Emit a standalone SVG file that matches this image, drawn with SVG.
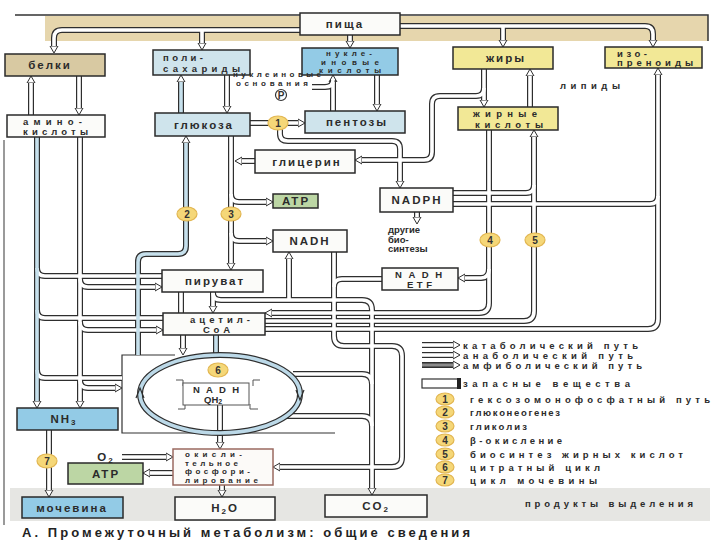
<svg xmlns="http://www.w3.org/2000/svg" xmlns:xlink="http://www.w3.org/1999/xlink" width="720" height="540" viewBox="0 0 720 540">
<style>
.box{stroke:#2a2a2a;stroke-width:1.5}
.w{fill:#fbfbf9}.lb{fill:#cfe4ec}.bl{fill:#93cbe6}.tan{fill:#d8c9a2}.yl{fill:#f2e896}.gr{fill:#bcd6a4}
.t{font-family:"Liberation Sans",Arial,sans-serif;font-size:11.5px;font-weight:bold;letter-spacing:2px;fill:#2b2b2b;text-anchor:middle}
.t2{font-family:"Liberation Sans",Arial,sans-serif;font-size:9.5px;font-weight:bold;fill:#2b2b2b}
.ts{font-family:"Liberation Sans",Arial,sans-serif;font-size:8px;font-weight:bold;fill:#2b2b2b}
.tl{font-family:"Liberation Sans",Arial,sans-serif;font-size:9.5px;font-weight:bold;fill:#2b2b2b}
.po{fill:none;stroke:#2e2e2e;stroke-width:6}
.pi{fill:none;stroke:#fff;stroke-width:3.6}
.pib{fill:none;stroke:#c6e0ec;stroke-width:3.6}
.num{fill:#f5d778;stroke:#e2b651;stroke-width:1.2}
.nt{font-family:"Liberation Sans",Arial,sans-serif;font-size:10px;font-weight:bold;fill:#333;text-anchor:middle}
</style>
<defs>
<marker id="ah" markerUnits="userSpaceOnUse" markerWidth="10" markerHeight="10" refX="0" refY="5" orient="auto" viewBox="0 0 10 10">
<path d="M0,1 L7,5 L0,9 Z" fill="#fff" stroke="#2e2e2e" stroke-width="1"/>
</marker>
<path id="c_food_l" d="M300,30 H62 Q54,30 54,38 V46"/>
<path id="c_food_poly" d="M202,30 V43"/>
<path id="c_food_nuc" d="M350,35 V41"/>
<path id="c_food_r" d="M400,26 H645 Q653,26 653,34 V40"/>
<path id="c_food_fat" d="M503,26 V40"/>
<path id="c_prot_down" d="M79,76 V108"/>
<path id="c_prot_up" d="M31,115 V83"/>
<path id="c_poly_down" d="M227,75 V106"/>
<path id="c_poly_up" d="M181,113 V82"/>
<path id="c_pent_up" d="M333,111 V82"/>
<path id="c_bases" d="M312,87 H325 Q333,87 333,80"/>
<path id="c_nuc_down" d="M377,75 V104"/>
<path id="c_glc_pent" d="M250,123 H298"/>
<path id="c_1_nadph" d="M280,128 V134 Q280,141 288,141 H392 Q400,141 400,149 V181"/>
<path id="c_gly_glc" d="M255,161 H242"/>
<path id="c_fat_gly" d="M484,88 Q484,96 476,96 H440 Q432,96 432,104 V152 Q432,160 424,160 H362"/>
<path id="c_fat_fa" d="M484,69 V100"/>
<path id="c_fa_fat" d="M530,107 V76"/>
<path id="c_nadph_fa" d="M453,193 H526 Q534,193 534,185"/>
<path id="c_nadph_iso" d="M453,204 H650 Q658,204 658,196"/>
<path id="c_nadph_bio" d="M417,212 V217"/>
<path id="c_beta" d="M489,130 V303 Q489,313 479,313 H272"/>
<path id="c_beta_etf" d="M489,269 Q489,278 481,278 H465"/>
<path id="c_fasyn" d="M265,321 H524 Q534,321 534,311 V137"/>
<path id="c_iso" d="M265,329 H648 Q658,329 658,319 V75"/>
<path id="c_glycolysis" d="M231,136 V263"/>
<path id="c_glyc_atp" d="M231,194 Q231,202 239,202 H266"/>
<path id="c_glyc_nadh" d="M231,233 Q231,241 239,241 H266"/>
<path id="c_gng" d="M138,355 V262 Q138,254 146,254 H178 Q186,254 186,246 V143"/>
<path id="c_pyr_acoa1" d="M181,292 V313"/>
<path id="c_pyr_acoa2" d="M213,292 V306"/>
<path id="c_pyr_co2" d="M213,293 Q213,300 221,300 H362 Q372,300 372,310 V488"/>
<path id="c_pyr_nadh" d="M289,300 V259"/>
<path id="c_nadh_ox" d="M334,252 V336 Q334,346 344,346 H392 Q402,346 402,356 V457 Q402,467 392,467 H280"/>
<path id="c_etf_ox" d="M382,279 H342 Q334,279 334,287"/>
<path id="c_cyc_co2a" d="M293,374 H362 Q372,374 372,384"/>
<path id="c_cyc_co2b" d="M285,416 H362 Q372,416 372,426"/>
<path id="c_acoa_cyc1" d="M183,335 V348"/>
<path id="c_acoa_cyc2" d="M216,335 V356"/>
<path id="c_aa_l" d="M37,137 V401"/>
<path id="c_aa_l1" d="M37,268 Q37,276 45,276 H162"/>
<path id="c_aa_l2" d="M37,310 Q37,318 45,318 H163"/>
<path id="c_aa_l3" d="M37,370 Q37,378 45,378 H122"/>
<path id="c_aa_r" d="M80,137 V401"/>
<path id="c_aa_r1" d="M80,279 Q80,287 88,287 H155"/>
<path id="c_aa_r2" d="M80,322 Q80,330 88,330 H156"/>
<path id="c_aa_r3" d="M80,380 Q80,388 88,388 H115"/>
<path id="c_nh3_urea" d="M49,430 V490"/>
<path id="c_o2_ox" d="M122,457 H166"/>
<path id="c_ox_atp" d="M173,473 H150"/>
<path id="c_ox_h2o" d="M222,485 V490"/>
<path id="c_qh2_ox" d="M220,405 V442"/>
<path id="l_cat" d="M422,345 H453"/>
<path id="l_ana" d="M422,355 H453"/>
<path id="l_amf" d="M422,365 H453"/>
</defs>

<rect width="720" height="540" fill="#ffffff"/>
<rect x="45" y="16" width="663" height="25" fill="#e6d6ad"/>
<path d="M15,15 H708 V41" fill="none" stroke="#333" stroke-width="1.5"/>
<rect x="10" y="488" width="700" height="33" fill="#e6e6e3"/>
<path d="M4,140 V525" stroke="#9a9a9a" stroke-width="2"/>

<g id="cycle-frame">
<path d="M175,355 H122 V433 H335" fill="none" stroke="#333" stroke-width="1.2"/>
</g>

<g id="connectors">
<g class="po">
<use href="#c_food_l" marker-end="url(#ah)"/>
<use href="#c_food_poly" marker-end="url(#ah)"/>
<use href="#c_food_nuc" marker-end="url(#ah)"/>
<use href="#c_food_r" marker-end="url(#ah)"/>
<use href="#c_food_fat" marker-end="url(#ah)"/>
<use href="#c_prot_down" marker-end="url(#ah)"/>
<use href="#c_prot_up" marker-end="url(#ah)"/>
<use href="#c_poly_down" marker-end="url(#ah)"/>
<use href="#c_poly_up" marker-end="url(#ah)"/>
<use href="#c_pent_up" marker-end="url(#ah)"/>
<use href="#c_bases"/>
<use href="#c_nuc_down" marker-end="url(#ah)"/>
<use href="#c_glc_pent" marker-end="url(#ah)"/>
<use href="#c_1_nadph" marker-end="url(#ah)"/>
<use href="#c_gly_glc" marker-end="url(#ah)"/>
<use href="#c_fat_gly" marker-end="url(#ah)"/>
<use href="#c_fat_fa" marker-end="url(#ah)"/>
<use href="#c_fa_fat" marker-end="url(#ah)"/>
<use href="#c_nadph_fa"/>
<use href="#c_nadph_iso"/>
<use href="#c_nadph_bio" marker-end="url(#ah)"/>
<use href="#c_beta" marker-end="url(#ah)"/>
<use href="#c_beta_etf" marker-end="url(#ah)"/>
<use href="#c_fasyn" marker-end="url(#ah)"/>
<use href="#c_iso" marker-end="url(#ah)"/>
<use href="#c_glycolysis" marker-end="url(#ah)"/>
<use href="#c_glyc_atp" marker-end="url(#ah)"/>
<use href="#c_glyc_nadh" marker-end="url(#ah)"/>
<use href="#c_gng" marker-end="url(#ah)"/>
<use href="#c_pyr_acoa1"/>
<use href="#c_pyr_acoa2" marker-end="url(#ah)"/>
<use href="#c_pyr_co2" marker-end="url(#ah)"/>
<use href="#c_pyr_nadh" marker-end="url(#ah)"/>
<use href="#c_nadh_ox" marker-end="url(#ah)"/>
<use href="#c_etf_ox"/>
<use href="#c_cyc_co2a"/>
<use href="#c_cyc_co2b"/>
<use href="#c_acoa_cyc1" marker-end="url(#ah)"/>
<use href="#c_acoa_cyc2"/>
<use href="#c_aa_l" marker-end="url(#ah)"/>
<use href="#c_aa_l1"/>
<use href="#c_aa_l2"/>
<use href="#c_aa_l3"/>
<use href="#c_aa_r" marker-end="url(#ah)"/>
<use href="#c_aa_r1" marker-end="url(#ah)"/>
<use href="#c_aa_r2" marker-end="url(#ah)"/>
<use href="#c_aa_r3" marker-end="url(#ah)"/>
<use href="#c_nh3_urea" marker-end="url(#ah)"/>
<use href="#c_o2_ox" marker-end="url(#ah)"/>
<use href="#c_ox_atp" marker-end="url(#ah)"/>
<use href="#c_ox_h2o" marker-end="url(#ah)"/>
<use href="#c_qh2_ox" marker-end="url(#ah)"/>
<use href="#l_cat" marker-end="url(#ah)"/>
<use href="#l_ana" marker-end="url(#ah)"/>
<use href="#l_amf" marker-end="url(#ah)"/>
</g>
<g class="pi">
<use href="#c_food_l"/><use href="#c_food_poly"/><use href="#c_food_nuc"/><use href="#c_food_r"/><use href="#c_food_fat"/>
<use href="#c_prot_down"/><use href="#c_prot_up"/><use href="#c_poly_down"/>
<use href="#c_pent_up"/><use href="#c_bases"/><use href="#c_nuc_down"/><use href="#c_glc_pent"/>
<use href="#c_1_nadph"/><use href="#c_gly_glc"/><use href="#c_fat_gly"/><use href="#c_fat_fa"/><use href="#c_fa_fat"/>
<use href="#c_nadph_fa"/><use href="#c_nadph_iso"/><use href="#c_nadph_bio"/>
<use href="#c_beta"/><use href="#c_beta_etf"/><use href="#c_fasyn"/><use href="#c_iso"/>
<use href="#c_glycolysis"/><use href="#c_glyc_atp"/><use href="#c_glyc_nadh"/>
<use href="#c_pyr_acoa1"/><use href="#c_pyr_acoa2"/><use href="#c_pyr_co2"/><use href="#c_pyr_nadh"/>
<use href="#c_nadh_ox"/><use href="#c_etf_ox"/><use href="#c_cyc_co2a"/><use href="#c_cyc_co2b"/>
<use href="#c_acoa_cyc1"/>
<use href="#c_aa_l1"/><use href="#c_aa_l2"/><use href="#c_aa_l3"/>
<use href="#c_aa_r"/><use href="#c_aa_r1"/><use href="#c_aa_r2"/><use href="#c_aa_r3"/>
<use href="#c_nh3_urea"/><use href="#c_o2_ox"/><use href="#c_ox_atp"/><use href="#c_ox_h2o"/><use href="#c_qh2_ox"/>
<use href="#l_cat"/><use href="#l_ana"/>
</g>
<g class="pib">
<use href="#c_poly_up"/><use href="#c_gng"/><use href="#c_acoa_cyc2"/><use href="#c_aa_l"/>
</g>
<use href="#l_amf" fill="none" stroke="#8a8a8a" stroke-width="3"/>
</g>

<g id="citrate-cycle">
<ellipse cx="220" cy="394" rx="80" ry="39" fill="none" stroke="#2e2e2e" stroke-width="6"/>
<ellipse cx="220" cy="394" rx="80" ry="39" fill="none" stroke="#bcd9e8" stroke-width="3.6"/>
<path d="M136,398 L140,388 L144,398" fill="none" stroke="#2e2e2e" stroke-width="1.2"/>
<path d="M296,390 L300,400 L304,390" fill="none" stroke="#2e2e2e" stroke-width="1.2"/>
<path d="M176,380 H183 V386 M260,380 H253 V386 M178,409 H185 V404 M258,409 H250 V404" fill="none" stroke="#555" stroke-width="1"/>
</g>

<g id="n-food"><rect class="box w" x="300" y="13" width="100" height="22"/><text class="t" x="345" y="28">пища</text></g>
<g id="n-proteins"><rect class="box tan" x="5" y="54" width="100" height="22"/><text class="t" x="50" y="69">белки</text></g>
<g id="n-polysacch"><rect class="box lb" x="153" y="50" width="97" height="25"/><text class="t2" x="163" y="61" textLength="40" lengthAdjust="spacing">поли-</text><text class="t2" x="163" y="72" textLength="77" lengthAdjust="spacing">сахариды</text></g>
<g id="n-nucleic"><rect class="box bl" x="302" y="48" width="96" height="27"/><text class="ts" x="326" y="56" textLength="46" lengthAdjust="spacing">нукле-</text><text class="ts" x="321" y="64.5" textLength="58" lengthAdjust="spacing">иновые</text><text class="ts" x="319" y="73" textLength="62" lengthAdjust="spacing">кислоты</text></g>
<g id="n-fats"><rect class="box yl" x="453" y="47" width="100" height="22"/><text class="t" x="506" y="62">жиры</text></g>
<g id="n-isoprenoids"><rect class="box yl" x="605" y="47" width="97" height="21"/><text class="t2" x="617" y="56.5" textLength="30" lengthAdjust="spacing">изо-</text><text class="t2" x="617" y="66" textLength="76" lengthAdjust="spacing">преноиды</text></g>
<text class="t2" x="560" y="89" font-weight="normal" textLength="60" lengthAdjust="spacing">липиды</text>
<g id="n-bases"><text class="ts" x="233" y="77" textLength="88" lengthAdjust="spacing">нуклеиновые</text><text class="ts" x="236" y="85.5" textLength="72" lengthAdjust="spacing">основания</text>
<circle cx="281" cy="95" r="5.5" fill="#fff" stroke="#333" stroke-width="1.2"/><text class="nt" x="281" y="98.5" font-size="8">P</text></g>
<g id="n-aminoacids"><rect class="box w" x="7" y="115" width="98" height="22"/><text class="t2" x="23" y="125" textLength="59" lengthAdjust="spacing">амино-</text><text class="t2" x="23" y="135" textLength="65" lengthAdjust="spacing">кислоты</text></g>
<g id="n-glucose"><rect class="box lb" x="155" y="113" width="95" height="23"/><text class="t" x="204" y="129">глюкоза</text></g>
<g id="n-pentoses"><rect class="box lb" x="305" y="111" width="100" height="22"/><text class="t" x="357" y="126">пентозы</text></g>
<g id="n-fattyacids"><rect class="box yl" x="458" y="107" width="100" height="23"/><text class="t2" x="473" y="117" textLength="64" lengthAdjust="spacing">жирные</text><text class="t2" x="475" y="127.5" textLength="68" lengthAdjust="spacing">кислоты</text></g>
<g id="n-glycerol"><rect class="box w" x="255" y="150" width="100" height="23"/><text class="t" x="307" y="166">глицерин</text></g>
<g id="n-atp1"><rect class="box gr" x="273" y="194" width="45" height="14"/><text class="t" x="296" y="205" letter-spacing="1px">ATP</text></g>
<g id="n-nadph"><rect class="box w" x="380" y="188" width="73" height="24"/><text class="t" x="417" y="204" letter-spacing="1px">NADPH</text></g>
<g id="n-otherbio"><text class="t2" x="388" y="233" font-weight="normal">другие</text><text class="t2" x="388" y="242.5" font-weight="normal">био-</text><text class="t2" x="388" y="252" font-weight="normal">синтезы</text></g>
<g id="n-nadh"><rect class="box w" x="273" y="230" width="74" height="22"/><text class="t" x="310" y="245" letter-spacing="1px">NADH</text></g>
<g id="n-pyruvate"><rect class="box w" x="162" y="270" width="101" height="22"/><text class="t" x="215" y="285">пируват</text></g>
<g id="n-nadhetf"><rect class="box w" x="382" y="268" width="76" height="22"/><text class="t2" x="395" y="277.5" textLength="47" lengthAdjust="spacing">NADH</text><text class="t2" x="407" y="288" textLength="25" lengthAdjust="spacing">ETF</text></g>
<g id="n-acetylcoa"><rect class="box w" x="163" y="313" width="102" height="22"/><text class="t2" x="190" y="323" textLength="60" lengthAdjust="spacing">ацетил-</text><text class="t2" x="203" y="333" textLength="27" lengthAdjust="spacing">CoA</text></g>
<g id="n-nadhqh2"><rect x="183" y="383" width="66" height="22" fill="#fff" stroke="#555" stroke-width="1"/><text class="t2" x="193" y="393" textLength="46" lengthAdjust="spacing">NADH</text><text class="t2" x="204" y="403">QH<tspan font-size="7" dy="1">2</tspan></text></g>
<g id="n-nh3"><rect class="box bl" x="17" y="408" width="101" height="22"/><text class="t" x="64" y="423" letter-spacing="1px">NH<tspan font-size="8" dy="2">3</tspan></text></g>
<g id="n-o2"><text class="t" x="106" y="461" letter-spacing="1px">O<tspan font-size="8" dy="2">2</tspan></text></g>
<g id="n-atp2"><rect class="box gr" x="68" y="463" width="75" height="21"/><text class="t" x="106" y="478" letter-spacing="1px">ATP</text></g>
<g id="n-oxphos"><rect x="173" y="449" width="100" height="36" fill="#fcfaf8" stroke="#9a6a60" stroke-width="1.5"/>
<text class="ts" x="185" y="457" textLength="57" lengthAdjust="spacing">окисли-</text><text class="ts" x="185" y="465.5" textLength="53" lengthAdjust="spacing">тельное</text><text class="ts" x="185" y="474" textLength="65" lengthAdjust="spacing">фосфори-</text><text class="ts" x="185" y="482.5" textLength="73" lengthAdjust="spacing">лирование</text></g>
<g id="n-urea"><rect class="box bl" x="22" y="497" width="101" height="21"/><text class="t" x="72" y="512">мочевина</text></g>
<g id="n-h2o"><rect class="box w" x="175" y="497" width="100" height="23"/><text class="t" x="225" y="512" letter-spacing="1px">H<tspan font-size="8" dy="2">2</tspan><tspan dy="-2">O</tspan></text></g>
<g id="n-co2"><rect class="box w" x="325" y="495" width="102" height="22"/><text class="t" x="376" y="510" letter-spacing="1px">CO<tspan font-size="8" dy="2">2</tspan></text></g>
<text class="tl" x="525" y="507" font-size="11" textLength="168" lengthAdjust="spacing">продукты выделения</text>

<g id="badges">
<ellipse class="num" cx="278" cy="123" rx="10" ry="7"/><text class="nt" x="278" y="127">1</text>
<ellipse class="num" cx="187" cy="214" rx="10" ry="7"/><text class="nt" x="187" y="218">2</text>
<ellipse class="num" cx="231" cy="214" rx="10" ry="7"/><text class="nt" x="231" y="218">3</text>
<ellipse class="num" cx="490" cy="240" rx="10" ry="7"/><text class="nt" x="490" y="244">4</text>
<ellipse class="num" cx="535" cy="240" rx="10" ry="7"/><text class="nt" x="535" y="244">5</text>
<ellipse class="num" cx="218" cy="370" rx="10" ry="7"/><text class="nt" x="218" y="374">6</text>
<ellipse class="num" cx="47" cy="461" rx="10" ry="7"/><text class="nt" x="47" y="465">7</text>
</g>

<g id="legend">
<text class="tl" x="463" y="348.5" font-weight="normal" textLength="175" lengthAdjust="spacing">катаболический путь</text>
<text class="tl" x="463" y="358.5" font-weight="normal" textLength="170" lengthAdjust="spacing">анаболический путь</text>
<text class="tl" x="463" y="368.5" font-weight="normal" textLength="179" lengthAdjust="spacing">амфиболический путь</text>
<rect x="422" y="379" width="38" height="9" fill="#fff" stroke="#333" stroke-width="1.2"/><rect x="457" y="378" width="4" height="11" fill="#222"/>
<text class="tl" x="463" y="387" font-weight="normal" textLength="167" lengthAdjust="spacing">запасные вещества</text>
<ellipse class="num" cx="445" cy="399" rx="9" ry="6"/><text class="nt" x="445" y="403">1</text>
<ellipse class="num" cx="445" cy="412" rx="9" ry="6"/><text class="nt" x="445" y="416">2</text>
<ellipse class="num" cx="445" cy="426" rx="9" ry="6"/><text class="nt" x="445" y="430">3</text>
<ellipse class="num" cx="445" cy="440" rx="9" ry="6"/><text class="nt" x="445" y="444">4</text>
<ellipse class="num" cx="445" cy="454" rx="9" ry="6"/><text class="nt" x="445" y="458">5</text>
<ellipse class="num" cx="445" cy="467" rx="9" ry="6"/><text class="nt" x="445" y="471">6</text>
<ellipse class="num" cx="445" cy="480" rx="9" ry="6"/><text class="nt" x="445" y="484">7</text>
<text class="tl" x="470" y="402.5" font-weight="normal" textLength="240" lengthAdjust="spacing">гексозомонофосфатный путь</text>
<text class="tl" x="470" y="415.5" font-weight="normal" textLength="90" lengthAdjust="spacing">глюконеогенез</text>
<text class="tl" x="470" y="429.5" font-weight="normal" textLength="57" lengthAdjust="spacing">гликолиз</text>
<text class="tl" x="470" y="443.5" font-weight="normal" textLength="92" lengthAdjust="spacing">β-окисление</text>
<text class="tl" x="470" y="457.5" font-weight="normal" textLength="213" lengthAdjust="spacing">биосинтез жирных кислот</text>
<text class="tl" x="470" y="470.5" font-weight="normal" textLength="130" lengthAdjust="spacing">цитратный цикл</text>
<text class="tl" x="470" y="483.5" font-weight="normal" textLength="127" lengthAdjust="spacing">цикл мочевины</text>
</g>

<text x="22" y="537" font-family="'Liberation Sans',Arial,sans-serif" font-size="13" font-weight="bold" fill="#222" textLength="448" lengthAdjust="spacing">А. Промежуточный метаболизм: общие сведения</text>
</svg>
